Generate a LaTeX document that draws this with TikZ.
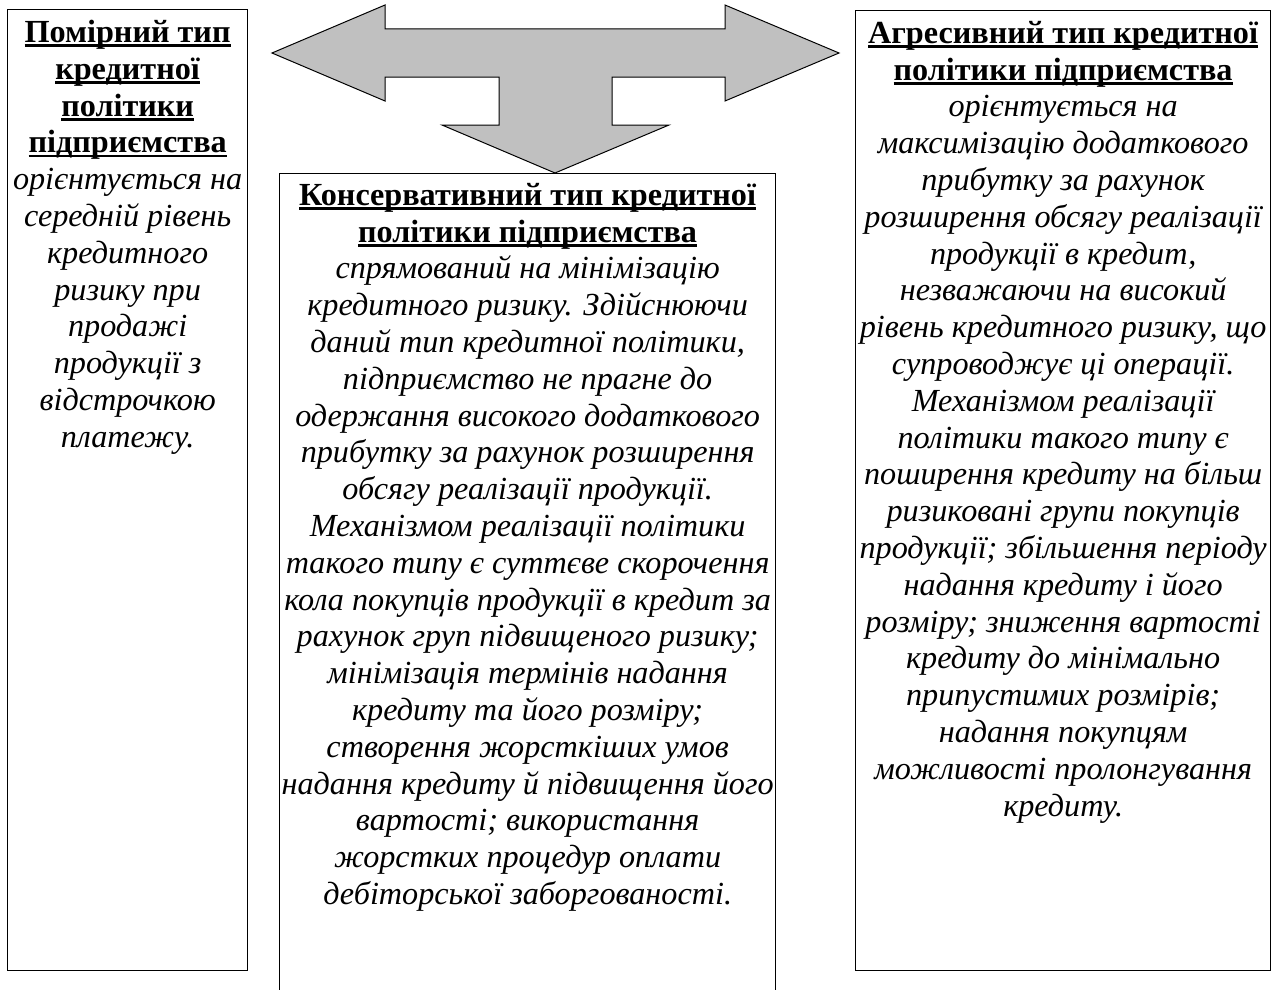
\documentclass[tikz,border=0pt]{standalone}
\usepackage{fontspec}
\setmainfont{Liberation Serif}
\usetikzlibrary{positioning}
\definecolor{arrowgray}{RGB}{192,192,192}
\newcommand{\hd}[1]{\setbox0\hbox{\textbf{#1}}\rlap{\rule[-4.5pt]{\wd0}{2.6pt}}\box0}

\begin{document}
\begin{tikzpicture}[x=1pt,y=-1pt,
  box/.style={draw,line width=1.3pt,inner sep=0pt,anchor=north west},
  txt/.style={align=center,inner sep=0pt,font=\fontsize{32.2}{36.8}\selectfont}]
\clip(0,0)rectangle(1271,990);
% the three boxes
\node[box,minimum width=240pt,minimum height=961pt](pomirn)at(7,9){};
\node[box,minimum width=496pt,minimum height=830pt](konserv)at(279,173){};
\node[box,minimum width=415pt,minimum height=960pt](agres)at(855,10){};
% arrow
\draw[fill=arrowgray,line width=1pt,line join=miter](272,53)--(385,5)--(385,29)--(725,29)--(725,5)--(839,53)--(725,101)--(725,77)--(612,77)--(612,125)--(669,125)--(555,173)--(442,125)--(499,125)--(499,77)--(385,77)--(385,101)--cycle;
% texts
\node[txt,below=11pt of pomirn.north](pomirntxt){\hd{Помірний тип}\\\hd{кредитної}\\\hd{політики}\\\hd{підприємства}\\
\itshape орієнтується на\\\itshape середній рівень\\\itshape кредитного\\\itshape ризику при\\\itshape продажі\\\itshape продукції з\\\itshape відстрочкою\\\itshape платежу.};
\node[txt,below=10pt of konserv.north](konservtxt){\hd{Консервативний тип кредитної}\\\hd{політики підприємства}\\
\itshape спрямований на мінімізацію\\\itshape кредитного ризику. Здійснюючи\\\itshape даний тип кредитної політики,\\\itshape підприємство не прагне до\\\itshape одержання високого додаткового\\\itshape прибутку за рахунок розширення\\\itshape обсягу реалізації продукції.\\\itshape Механізмом реалізації політики\\\itshape такого типу є суттєве скорочення\\\itshape кола покупців продукції в кредит за\\\itshape рахунок груп підвищеного ризику;\\\itshape мінімізація термінів надання\\\itshape кредиту та його розміру;\\\itshape створення жорсткіших умов\\\itshape надання кредиту й підвищення його\\\itshape вартості; використання\\\itshape жорстких процедур оплати\\\itshape дебіторської заборгованості.};
\node[txt,below=11pt of agres.north](agrestxt){\hd{Агресивний тип кредитної}\\\hd{політики підприємства}\\
\itshape орієнтується на\\\itshape максимізацію додаткового\\\itshape прибутку за рахунок\\\itshape розширення обсягу реалізації\\\itshape продукції в кредит,\\\itshape незважаючи на високий\\\itshape рівень кредитного ризику, що\\\itshape супроводжує ці операції.\\\itshape Механізмом реалізації\\\itshape політики такого типу є\\\itshape поширення кредиту на більш\\\itshape ризиковані групи покупців\\\itshape продукції; збільшення періоду\\\itshape надання кредиту і його\\\itshape розміру; зниження вартості\\\itshape кредиту до мінімально\\\itshape припустимих розмірів;\\\itshape надання покупцям\\\itshape можливості пролонгування\\\itshape кредиту.};
\end{tikzpicture}
\end{document}
